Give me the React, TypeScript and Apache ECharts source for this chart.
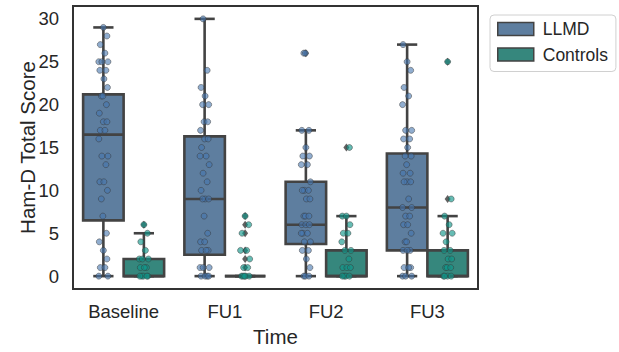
import React, { useEffect, useRef } from 'react';
import * as echarts from 'echarts';

const categories = ['Baseline', 'FU1', 'FU2', 'FU3'];
const groupNames = ['LLMD', 'Controls'];

// box stats per time point: [lower whisker, Q1, median, Q3, upper whisker]
const llmdBoxes = [
  [0, 6.5, 16.5, 21.2, 29],
  [0, 2.5, 9, 16.3, 30],
  [0, 3.75, 6, 11, 17],
  [0, 3, 8, 14.3, 27],
];
const controlBoxes = [
  [0, 0, 0, 2, 5],
  [0, 0, 0, 0, 0],
  [0, 0, 0, 3, 7],
  [0, 0, 0, 3, 7],
];

const llmdOutliers = [[], [], [26], []];
const controlOutliers = [[6], [1, 2, 3, 5, 6, 7], [15], [9, 25]];

const llmdScores = [
  [29, 28, 27, 26, 25, 25, 25, 24, 24, 23, 22, 21, 21, 20, 19, 18, 18, 17, 17, 16, 14, 14, 13, 11, 11, 10, 9, 7, 5, 4, 3, 2, 1, 1, 0, 0],
  [30, 24, 22, 21, 20, 20, 18, 18, 17, 16, 16, 15, 14, 14, 13, 12, 11, 10, 9, 9, 9, 7, 5, 4, 4, 3, 3, 3, 1, 1, 1, 0, 0, 0, 0],
  [26, 26, 17, 17, 15, 14, 14, 13, 13, 11, 10, 10, 10, 9, 9, 7, 7, 7, 6, 6, 6, 5, 5, 5, 4, 4, 3, 3, 2, 1, 0, 0, 0],
  [27, 25, 24, 22, 21, 20, 17, 17, 16, 16, 15, 14, 14, 13, 12, 12, 11, 11, 11, 9, 8, 8, 7, 7, 6, 6, 5, 4, 4, 3, 3, 3, 1, 1, 1, 0, 0, 0],
];
const controlScores = [
  [6, 5, 4, 3, 2, 2, 2, 1, 1, 1, 0, 0, 0, 0, 0],
  [7, 6, 5, 3, 3, 2, 1, 1, 0, 0, 0, 0, 0],
  [15, 7, 7, 6, 5, 5, 4, 3, 3, 2, 1, 1, 1, 0, 0, 0, 0],
  [25, 9, 7, 6, 5, 5, 4, 3, 3, 2, 2, 1, 1, 1, 0, 0, 0, 0],
];

// fixed strip-plot jitter pattern (category units)
const JITTER = [0.0, 0.035, -0.03, 0.015, -0.045, 0.045, -0.015, 0.025, -0.035, 0.005, 0.04, -0.02, -0.005, 0.03, -0.04];

const BOX_COLORS = ['#5e7e9f', '#36877d'];
const POINT_COLORS = ['rgba(70,118,175,0.75)', 'rgba(16,150,138,0.8)'];
const LINE = '#434343';
const FONT = '"Liberation Sans", Arial, sans-serif';
const HUE_OFFSETS = [-0.2, 0.2];

function boxSeries(name: string, boxes: number[][], hue: number) {
  return {
    name,
    type: 'custom',
    xAxisIndex: 1,
    yAxisIndex: 0,
    z: 2,
    encode: { x: 0, y: [1, 2, 3, 4, 5] },
    data: boxes.map((b, i) => [i, ...b]),
    renderItem: (params: any, api: any) => {
      const x = api.value(0) + HUE_OFFSETS[hue];
      const [cx, yq1] = api.coord([x, api.value(2)]);
      const ylo = api.coord([x, api.value(1)])[1];
      const ymed = api.coord([x, api.value(3)])[1];
      const yq3 = api.coord([x, api.value(4)])[1];
      const yhi = api.coord([x, api.value(5)])[1];
      const w = api.size([0.4, 0])[0];
      const cw = api.size([0.2, 0])[0];
      const ls = { stroke: LINE, lineWidth: 2.6 };
      return {
        type: 'group',
        children: [
          { type: 'line', shape: { x1: cx, y1: ylo, x2: cx, y2: yq1 }, style: ls },
          { type: 'line', shape: { x1: cx, y1: yq3, x2: cx, y2: yhi }, style: ls },
          { type: 'line', shape: { x1: cx - cw / 2, y1: ylo, x2: cx + cw / 2, y2: ylo }, style: ls },
          { type: 'line', shape: { x1: cx - cw / 2, y1: yhi, x2: cx + cw / 2, y2: yhi }, style: ls },
          {
            type: 'rect',
            shape: { x: cx - w / 2, y: yq3, width: w, height: yq1 - yq3 },
            style: { fill: BOX_COLORS[hue], stroke: LINE, lineWidth: 2.6 },
          },
          { type: 'line', shape: { x1: cx - w / 2, y1: ymed, x2: cx + w / 2, y2: ymed }, style: ls },
        ],
      };
    },
  };
}

function outlierSeries(name: string, outs: number[][], hue: number) {
  const data: number[][] = [];
  outs.forEach((arr, i) => arr.forEach((v) => data.push([i + HUE_OFFSETS[hue], v])));
  return {
    name,
    type: 'scatter',
    xAxisIndex: 1,
    yAxisIndex: 0,
    z: 3,
    symbol: 'diamond',
    symbolSize: [6, 8],
    itemStyle: { color: '#3a3a3a' },
    data,
  };
}

function stripSeries(name: string, scores: number[][], hue: number) {
  const data: number[][] = [];
  let k = 0;
  scores.forEach((arr, i) =>
    arr.forEach((v) => {
      data.push([i + HUE_OFFSETS[hue] + JITTER[k % JITTER.length], v]);
      k += 1;
    })
  );
  return {
    name,
    type: 'scatter',
    xAxisIndex: 1,
    yAxisIndex: 0,
    z: 4,
    symbol: 'circle',
    symbolSize: 6,
    itemStyle: { color: POINT_COLORS[hue], borderColor: 'rgba(55,55,55,0.85)', borderWidth: 0.7 },
    data,
  };
}

export default function App() {
  const ref = useRef<HTMLDivElement>(null);
  useEffect(() => {
    document.body.style.margin = '0';
    const chart = echarts.init(ref.current!, null, { renderer: 'svg' });
    chart.setOption({
      animation: false,
      backgroundColor: '#ffffff',
      textStyle: { fontFamily: FONT },
      grid: {
        left: 73,
        right: 141,
        top: 6,
        bottom: 58,
        show: true,
        borderColor: '#333333',
        borderWidth: 2,
        backgroundColor: 'transparent',
      },
      legend: {
        orient: 'vertical',
        left: 490,
        top: 15,
        padding: [5, 8, 8, 7],
        borderColor: '#d0d0d0',
        borderWidth: 1,
        borderRadius: 4,
        itemWidth: 36,
        itemHeight: 13,
        itemGap: 7.5,
        textStyle: { fontSize: 17.5, color: '#262626', fontFamily: FONT, lineHeight: 18, padding: [0, 0, 0, 4] },
        data: groupNames.map((n, i) => ({
          name: n,
          icon: 'rect',
          itemStyle: { color: BOX_COLORS[i], borderColor: LINE, borderWidth: 1.5 },
        })),
      },
      xAxis: [
        {
          type: 'category',
          data: categories,
          boundaryGap: true,
          axisLine: { show: false },
          axisTick: { show: false },
          splitLine: { show: false },
          axisLabel: { fontSize: 18.5, color: '#262626', margin: 13, fontFamily: FONT },
          name: 'Time',
          nameLocation: 'middle',
          nameGap: 37,
          nameMoveOverlap: false,
          nameTextStyle: { fontSize: 20.5, color: '#262626', fontFamily: FONT },
        },
        {
          type: 'value',
          min: -0.5,
          max: 3.5,
          show: false,
        },
      ],
      yAxis: {
        type: 'value',
        min: -1.5,
        max: 31.5,
        axisLine: { show: false },
        axisTick: { show: false },
        splitLine: { show: false },
        axisLabel: {
          fontSize: 18.5,
          color: '#262626',
          margin: 14,
          fontFamily: FONT,
          showMinLabel: false,
          showMaxLabel: false,
          formatter: (v: number) => (v % 5 === 0 ? String(v) : ''),
        },
        name: 'Ham-D Total Score',
        nameLocation: 'middle',
        nameGap: 35,
        nameMoveOverlap: false,
        nameTextStyle: { fontSize: 20.5, color: '#262626', fontFamily: FONT },
      },
      series: [
        boxSeries('LLMD', llmdBoxes, 0),
        boxSeries('Controls', controlBoxes, 1),
        outlierSeries('LLMD', llmdOutliers, 0),
        outlierSeries('Controls', controlOutliers, 1),
        stripSeries('LLMD', llmdScores, 0),
        stripSeries('Controls', controlScores, 1),
      ],
    });
    return () => chart.dispose();
  }, []);
  return <div ref={ref} style={{ width: 619, height: 352 }} />;
}
